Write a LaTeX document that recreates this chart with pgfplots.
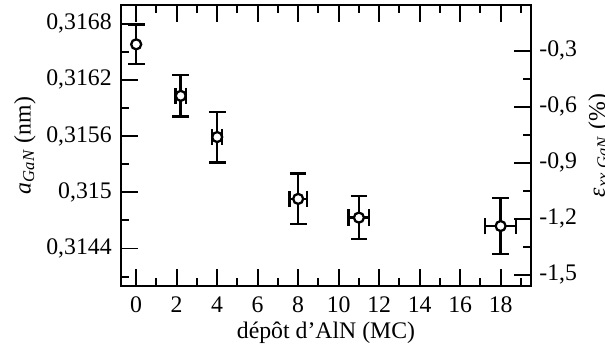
\documentclass[border=0pt]{standalone}
\usepackage{fontspec}
\setmainfont{Liberation Serif}
\usepackage{pgfplots}
\usepackage{pgfplotstable}
\pgfplotsset{compat=1.18}
\pgfplotstableread{
x y ex ey
2.2 0.31603 0.25 0.00022
4 0.31559 0.25 0.00027
8 0.31493 0.43 0.00027
11 0.31473 0.51 0.00023
18 0.31464 0.77 0.00030
}\dataA
\pgfplotstableread{
x y ey
0 0.31658 0.00021
}\dataB
\begin{document}
\fontsize{11.4}{13.7}\selectfont
\begin{tikzpicture}
\pgfplotsset{
  common/.style={
    scale only axis, width=196.8pt, height=134.88pt,
    xmin=-0.75, xmax=19.5,
    major tick length=8.2pt, minor tick length=3.8pt,
    tick align=inside,
    tick style={line width=0.9pt, black},
    axis line style={line width=1pt},
    every tick label/.append style={font=\fontsize{11.4}{13.7}\selectfont},
    /pgf/number format/assume math mode=true,
    scaled y ticks=false,
    clip=false,
  },
  ebars/.style={black, only marks, mark=*, mark size=2.4pt,
    mark options={fill=white, draw=black, line width=1.1pt}},
}
\begin{axis}[common,
  ymin=0.3140, ymax=0.3170,
  xtick={0,2,...,18}, minor xtick={1,3,...,19},
  xtick pos=both, xticklabel pos=lower,
  ytick={0.3144,0.315,0.3156,0.3162,0.3168},
  yticklabels={{0,3144},{0,315},{0,3156},{0,3162},{0,3168}},
  minor ytick={0.3141,0.3147,0.3153,0.3159,0.3165},
  ytick pos=left,
  xticklabel style={yshift=-1pt},
  yticklabel style={xshift=-0.5pt},
]
\addplot[ebars,
  error bars/.cd, x dir=both, x explicit, y dir=both, y explicit,
  error bar style={line width=1.2pt, black},
  error mark options={rotate=90, line width=1.2pt, mark size=4pt, black}]
  table[x=x, y=y, x error=ex, y error=ey] {\dataA};
\addplot[ebars,
  error bars/.cd, y dir=both, y explicit,
  error bar style={line width=1.2pt, black},
  error mark options={rotate=90, line width=1.2pt, mark size=4pt, black}]
  table[x=x, y=y, y error=ey] {\dataB};
\node[rotate=90, anchor=base] at ([xshift=-43.4pt]rel axis cs:0,0.5)
  {\textit{a}\textsubscript{\textit{GaN}} (nm)};
\node[anchor=base] at ([yshift=-25pt]rel axis cs:0.5,0) {dépôt d’AlN (MC)};
\coordinate (bl) at (rel axis cs:0,0);
\coordinate (tr) at (rel axis cs:1,1);
\end{axis}
\begin{axis}[common,
  ymin=-1.559, ymax=-0.056,
  xtick=\empty,
  ytick={-1.5,-1.2,-0.9,-0.6,-0.3},
  yticklabels={{-1,5},{-1,2},{-0,9},{-0,6},{-0,3}},
  minor ytick={-1.35,-1.05,-0.75,-0.45},
  ytick pos=right, yticklabel pos=right,
]
\addplot[draw=none] coordinates {(0,-1)};
\node[rotate=90, anchor=base] at ([xshift=35.5pt]rel axis cs:1,0.5)
  {\textit{ε}\textsubscript{\textit{xx GaN}} (\%)};
\end{axis}
\pgfresetboundingbox
\path[use as bounding box] ([shift={(-58.08pt,-30.24pt)}]bl) rectangle ([shift={(35.52pt,2.4pt)}]tr);
\end{tikzpicture}
\end{document}
